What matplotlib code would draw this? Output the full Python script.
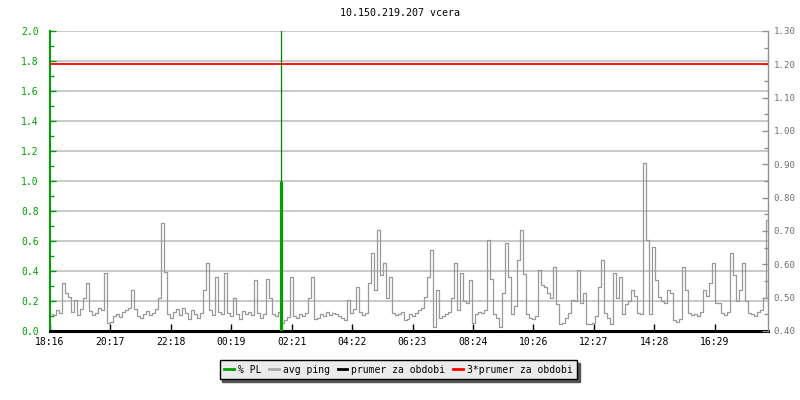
import matplotlib
matplotlib.use('Agg')
import matplotlib.pyplot as plt
from matplotlib.ticker import MultipleLocator, FormatStrFormatter

plt.rcParams['font.family'] = ['DejaVu Sans Mono', 'DejaVu Sans']

# avg ping (ms), one sample every 6 minutes starting 18:16
avg_ping = [
    0.452, 0.447, 0.463, 0.455, 0.544, 0.514, 0.502, 0.458, 0.493, 0.447, 0.466, 0.500,
    0.544, 0.460, 0.448, 0.455, 0.470, 0.463, 0.574, 0.425, 0.428, 0.445, 0.452, 0.441,
    0.458, 0.462, 0.470, 0.523, 0.466, 0.445, 0.438, 0.452, 0.460, 0.448, 0.455, 0.466,
    0.500, 0.724, 0.577, 0.452, 0.440, 0.458, 0.466, 0.448, 0.470, 0.455, 0.436, 0.462,
    0.452, 0.440, 0.455, 0.523, 0.604, 0.462, 0.448, 0.562, 0.458, 0.452, 0.574, 0.455,
    0.446, 0.500, 0.452, 0.437, 0.460, 0.452, 0.458, 0.448, 0.553, 0.455, 0.440, 0.450,
    0.556, 0.500, 0.452, 0.446, 0.458, 0.425, 0.432, 0.441, 0.562, 0.445, 0.440, 0.452,
    0.446, 0.455, 0.500, 0.562, 0.436, 0.440, 0.452, 0.445, 0.458, 0.448, 0.455, 0.452,
    0.445, 0.440, 0.432, 0.493, 0.455, 0.466, 0.532, 0.458, 0.448, 0.455, 0.543, 0.634,
    0.523, 0.703, 0.568, 0.604, 0.500, 0.562, 0.455, 0.448, 0.452, 0.458, 0.433, 0.436,
    0.452, 0.445, 0.455, 0.462, 0.470, 0.502, 0.562, 0.643, 0.412, 0.523, 0.440, 0.445,
    0.452, 0.458, 0.500, 0.604, 0.462, 0.574, 0.490, 0.484, 0.553, 0.424, 0.450, 0.458,
    0.455, 0.462, 0.673, 0.556, 0.450, 0.440, 0.412, 0.514, 0.664, 0.562, 0.452, 0.474,
    0.613, 0.703, 0.571, 0.452, 0.440, 0.436, 0.445, 0.583, 0.538, 0.532, 0.514, 0.500,
    0.592, 0.480, 0.420, 0.425, 0.440, 0.455, 0.493, 0.490, 0.583, 0.484, 0.514, 0.420,
    0.422, 0.425, 0.445, 0.533, 0.613, 0.455, 0.440, 0.420, 0.574, 0.500, 0.562, 0.452,
    0.480, 0.490, 0.523, 0.505, 0.455, 0.450, 0.904, 0.673, 0.452, 0.652, 0.553, 0.502,
    0.490, 0.484, 0.523, 0.514, 0.432, 0.428, 0.436, 0.592, 0.523, 0.455, 0.448, 0.452,
    0.445, 0.458, 0.523, 0.505, 0.543, 0.604, 0.484, 0.484, 0.455, 0.448, 0.458, 0.634,
    0.568, 0.490, 0.523, 0.604, 0.490, 0.455, 0.452, 0.446, 0.458, 0.462, 0.500, 0.733,
]
minutes = [4 + 6 * i for i in range(len(avg_ping))]

# packet loss (%) - one event around 02:00
pl_minutes = [463]
pl_values = [1.0]
pl_peak = [100.0]

prumer = 0.4008  # average ping for period

tick_minutes = [0, 121.2, 242.4, 363.5, 484.7, 605.9, 727.1, 848.3, 969.5, 1090.6, 1211.8, 1333.0]
tick_labels = ['18:16', '20:17', '22:18', '00:19', '02:21', '04:22',
               '06:23', '08:24', '10:26', '12:27', '14:28', '16:29']

green = '#00a000'
fig = plt.figure(figsize=(8, 4), dpi=100)
ax = fig.add_axes([0.0625, 0.1725, 0.8975, 0.75])
ax2 = ax.twinx()

ax.set_xlim(0, 1440)
ax.set_ylim(0, 2.0)

# grid
ax.yaxis.set_major_locator(MultipleLocator(0.2))
ax.yaxis.set_minor_locator(MultipleLocator(0.1))
ax.yaxis.set_major_formatter(FormatStrFormatter('%.1f'))
ax.grid(axis='y', color='#c0c0c0', lw=1.2)
ax.set_axisbelow(True)

# data on right axis
ax2.plot(minutes, avg_ping, color='#999999', lw=0.9, drawstyle='steps-mid')
ax2.axhline(prumer, color='black', lw=1.2)
ax2.axhline(3 * prumer, color='#ff0000', lw=1.3)
ax2.vlines(pl_minutes, 0, pl_peak, color='#008000', lw=0.9, transform=ax.transData)
ax2.vlines(pl_minutes, 0, pl_values, color=green, lw=2.3, transform=ax.transData)
ax2.set_ylim(0.40, 1.30)
ax.set_xlim(0, 1440)

ax.set_xticks(tick_minutes)
ax.set_xticklabels(tick_labels)

ax.spines['top'].set_visible(False)
ax2.spines['top'].set_visible(False)
ax.spines['left'].set_color(green)
ax.spines['left'].set_linewidth(1.5)
ax2.spines['left'].set_visible(False)
ax.spines['right'].set_visible(False)
ax2.spines['right'].set_color('#909090')
ax2.spines['right'].set_linewidth(1)
ax.spines['bottom'].set_linewidth(2.2)
ax2.spines['bottom'].set_visible(False)

ax.tick_params(axis='y', which='both', direction='in', colors=green, labelsize=7, pad=8)
ax.tick_params(axis='y', which='major', length=4, width=1)
ax.tick_params(axis='y', which='minor', length=3, width=1)
ax.tick_params(axis='x', direction='in', length=5, width=1, labelsize=7, pad=4, colors='black')

ax2.yaxis.set_major_locator(MultipleLocator(0.10))
ax2.yaxis.set_minor_locator(MultipleLocator(0.05))
ax2.yaxis.set_major_formatter(FormatStrFormatter('%.2f'))
ax2.tick_params(axis='y', which='both', direction='in', colors='#909090', labelsize=6.6, pad=4)
ax2.tick_params(axis='y', which='major', length=4, width=1)
ax2.tick_params(axis='y', which='minor', length=3, width=1)
for lbl in ax2.get_yticklabels():
    lbl.set_color('#707070')

fig.text(0.5, 0.9675, '10.150.219.207 vcera', ha='center', va='center', fontsize=7.2)

handles = [
    plt.Line2D([], [], color=green, lw=2),
    plt.Line2D([], [], color='#aaaaaa', lw=2),
    plt.Line2D([], [], color='black', lw=2),
    plt.Line2D([], [], color='#ff0000', lw=2),
]
labels = ['% PL', 'avg ping', 'prumer za obdobi', '3*prumer za obdobi']
leg = fig.legend(handles, labels, loc='center', bbox_to_anchor=(0.498, 0.076), ncol=4,
                 fontsize=7, frameon=True, fancybox=False, shadow={'color': '#555555', 'alpha': 1},
                 handlelength=1.0, handletextpad=0.4, columnspacing=0.8,
                 borderpad=0.5, edgecolor='black', facecolor='#ebebeb', framealpha=1)
leg.get_frame().set_linewidth(1)

plt.savefig('out.png', dpi=100)
